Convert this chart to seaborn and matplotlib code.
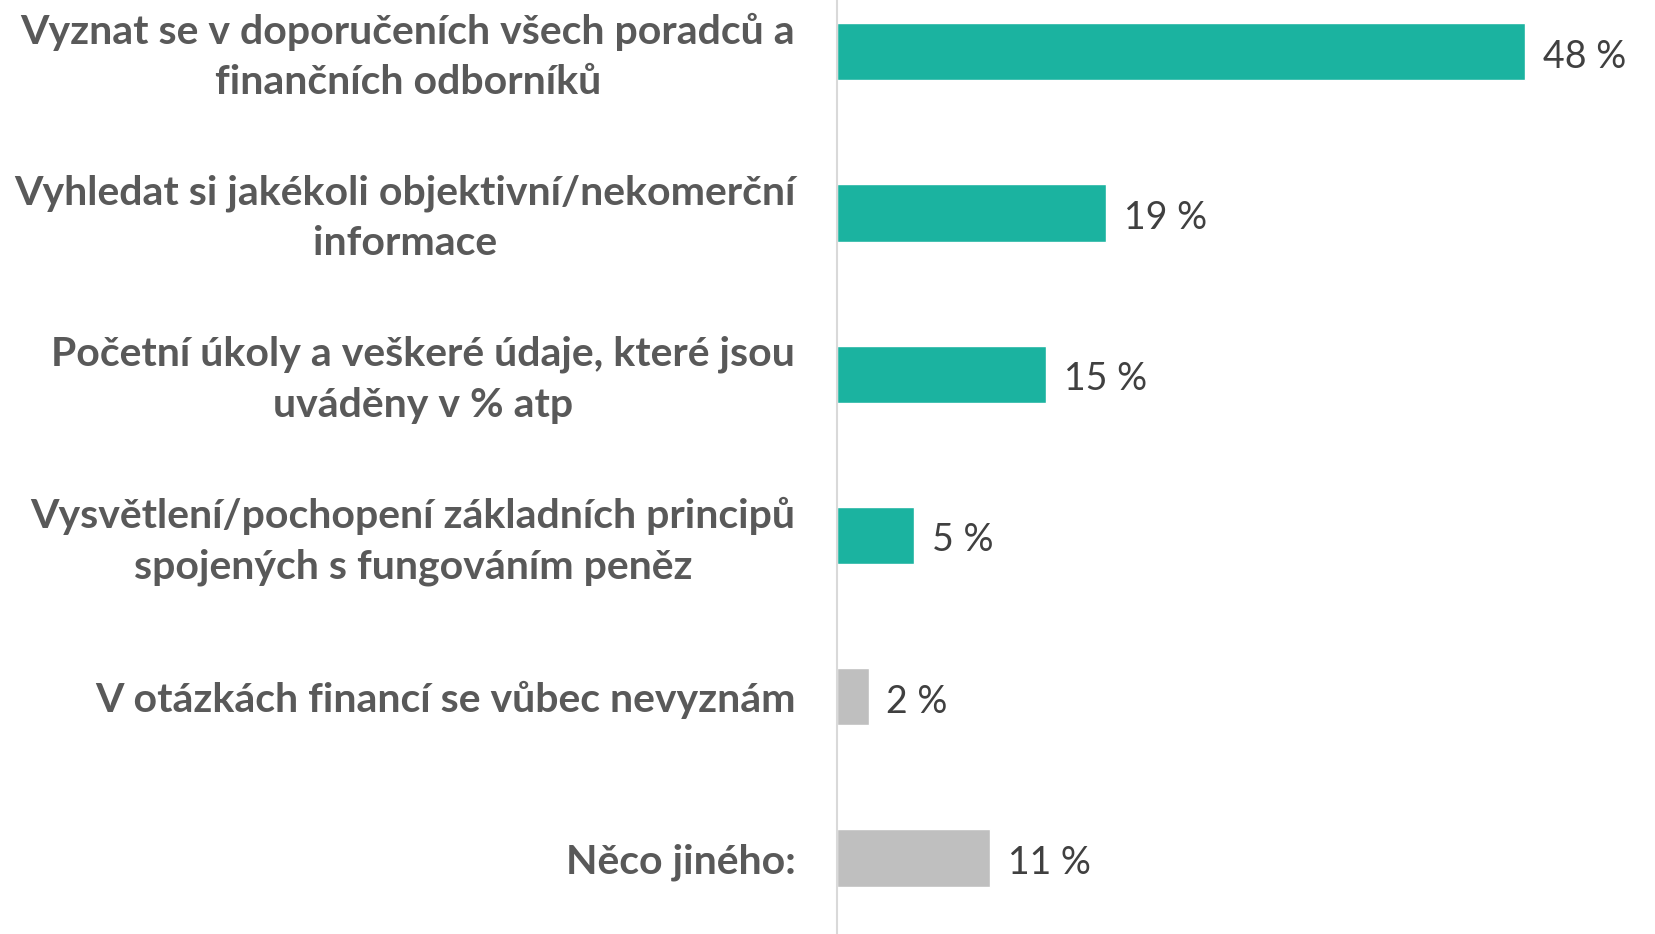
import pandas as pd
import numpy as np
import matplotlib
matplotlib.use('Agg')
import matplotlib.pyplot as plt
import matplotlib.transforms as mtransforms
import seaborn as sns

# odpovědi a podíly (%)
kategorie = [
    'Vyznat se v doporučeních všech poradců a\nfinančních odborníků',
    'Vyhledat si jakékoli objektivní/nekomerční\ninformace',
    'Početní úkoly a veškeré údaje, které jsou\nuváděny v % atp',
    'Vysvětlení/pochopení základních principů\nspojených s fungováním peněz',
    'V otázkách financí se vůbec nevyznám',
    'Něco jiného:',
]
hodnoty = [48.0, 18.8, 14.6, 5.4, 2.2, 10.7]
barvy = ['#1BB3A0', '#1BB3A0', '#1BB3A0', '#1BB3A0', '#BFBFBF', '#BFBFBF']

df = pd.DataFrame({'kategorie': kategorie, 'hodnota': hodnoty})

sns.set_style('white')
plt.rcParams['font.family'] = ['Lato', 'DejaVu Sans']

fig = plt.figure(figsize=(16.55, 9.34), dpi=100)
ax = fig.add_axes([837 / 1655, 0, 1 - 837 / 1655, 1])

sns.barplot(data=df, x='hodnota', y='kategorie', hue='kategorie',
            palette=barvy, legend=False, width=0.355, ax=ax, saturation=1)

ax.set_xlim(0, 57.08)
ax.set_ylim(5.471, -0.321)
ax.set_xlabel('')
ax.set_ylabel('')
ax.set_xticks([])

for s in ['top', 'right', 'bottom']:
    ax.spines[s].set_visible(False)
ax.spines['left'].set_color('#D9D9D9')
ax.spines['left'].set_linewidth(1.5)

ax.tick_params(axis='y', length=0, pad=30)
posun = mtransforms.ScaledTranslation(0, 5 / 100, fig.dpi_scale_trans)
for lab in ax.get_yticklabels():
    lab.set_fontsize(29.5)
    lab.set_fontweight('bold')
    lab.set_color('#595959')
    lab.set_multialignment('center')
    lab.set_linespacing(1.45)
    if '\n' in lab.get_text():
        lab.set_transform(lab.get_transform() + posun)

# popisky hodnot
for i, v in enumerate(hodnoty):
    ax.text(v + 1.25, i + 0.03, f'{round(v)} %', va='center', ha='left',
            fontsize=27, color='#404040')

fig.savefig('out.png', dpi=100)
